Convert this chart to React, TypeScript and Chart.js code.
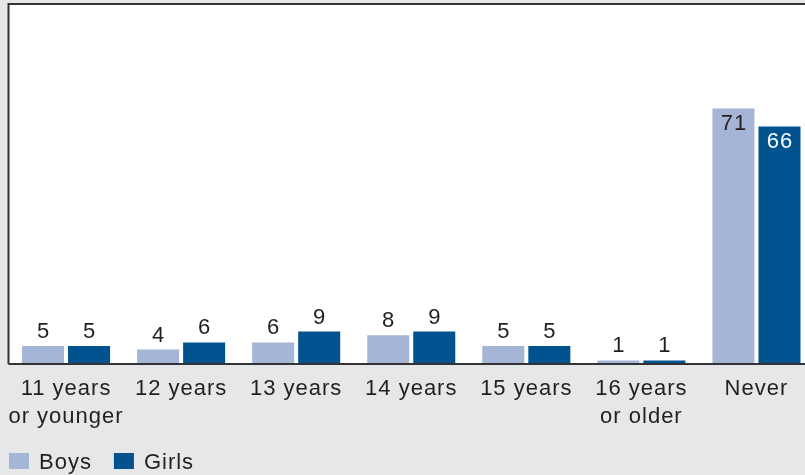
import React, { useEffect, useRef } from "react";
import { Chart, registerables } from "chart.js";

Chart.register(...registerables);

const categories: (string | string[])[] = [
  ["11 years", "or younger"],
  "12 years",
  "13 years",
  "14 years",
  "15 years",
  ["16 years", "or older"],
  "Never",
];
const boysValues = [5, 4, 6, 8, 5, 1, 71];
const girlsValues = [5, 6, 9, 9, 5, 1, 66];
const seriesNames = ["Boys", "Girls"];
const seriesColors = ["#a4b5d6", "#00538f"];
const yMax = 100;

const FONT = "'Liberation Sans', Arial, Helvetica, sans-serif";
const FONT_SIZE = 22;
const BG = "#e6e7e9";
const INK = "#231f20";

const framePlugin = {
  id: "frame",
  beforeDraw(chart: any) {
    const { ctx, chartArea: a } = chart;
    ctx.letterSpacing = "1px";
    ctx.save();
    ctx.fillStyle = BG;
    ctx.fillRect(0, 0, chart.width, chart.height);
    ctx.fillStyle = "#ffffff";
    ctx.fillRect(a.left, a.top, a.right - a.left, a.bottom - a.top);
    ctx.restore();
  },
  afterDraw(chart: any) {
    const { ctx, chartArea: a } = chart;
    ctx.save();
    ctx.strokeStyle = "#333336";
    ctx.lineWidth = 2;
    ctx.beginPath();
    ctx.moveTo(a.left, a.bottom);
    ctx.lineTo(a.left, a.top);
    ctx.lineTo(chart.width, a.top);
    ctx.stroke();
    ctx.beginPath();
    ctx.moveTo(a.left, a.bottom);
    ctx.lineTo(chart.width, a.bottom);
    ctx.stroke();

    // legend
    ctx.font = `${FONT_SIZE}px ${FONT}`;
    ctx.letterSpacing = "1px";
    ctx.textBaseline = "alphabetic";
    ctx.textAlign = "left";
    let x = 9;
    const boxTop = 453;
    chart.data.datasets.forEach((ds: any) => {
      ctx.fillStyle = ds.backgroundColor;
      ctx.fillRect(x, boxTop, 20, 16);
      ctx.fillStyle = INK;
      ctx.fillText(ds.label, x + 30, boxTop + 15.5);
      x += 30 + ctx.measureText(ds.label).width + 22;
    });
    ctx.restore();
  },
};

const valueLabelPlugin = {
  id: "valueLabels",
  afterDatasetsDraw(chart: any) {
    const { ctx } = chart;
    ctx.save();
    ctx.font = `${FONT_SIZE}px ${FONT}`;
    ctx.letterSpacing = "1px";
    ctx.textAlign = "center";
    ctx.textBaseline = "alphabetic";
    chart.data.datasets.forEach((ds: any, di: number) => {
      const meta = chart.getDatasetMeta(di);
      meta.data.forEach((el: any, i: number) => {
        const v = ds.data[i];
        if (v > 40) {
          ctx.fillStyle = di === 1 ? "#ffffff" : INK;
          ctx.fillText(String(v), el.x + 0.5, el.y + 22);
        } else {
          ctx.fillStyle = INK;
          ctx.fillText(String(v), el.x + 0.5, el.y - 8);
        }
      });
    });
    ctx.restore();
  },
};

export default function App() {
  const ref = useRef<HTMLCanvasElement | null>(null);
  useEffect(() => {
    if (!ref.current) return;
    const chart = new Chart(ref.current, {
      type: "bar",
      data: {
        labels: categories,
        datasets: [
          {
            label: seriesNames[0],
            data: boysValues,
            backgroundColor: seriesColors[0],
            categoryPercentage: 0.8,
            barPercentage: 42 / 46,
          },
          {
            label: seriesNames[1],
            data: girlsValues,
            backgroundColor: seriesColors[1],
            categoryPercentage: 0.8,
            barPercentage: 42 / 46,
          },
        ],
      },
      options: {
        responsive: false,
        animation: false,
        devicePixelRatio: 1,
        layout: { padding: { left: 8.5, right: 0, top: 4, bottom: 33 } },
        plugins: {
          legend: { display: false },
          tooltip: { enabled: false },
        },
        scales: {
          x: {
            grid: { display: false, drawTicks: false },
            border: { display: false },
            ticks: {
              color: INK,
              font: { family: FONT, size: FONT_SIZE, lineHeight: 28 / FONT_SIZE },
              padding: 11,
              maxRotation: 0,
              autoSkip: false,
            },
          },
          y: {
            display: false,
            min: 0,
            max: yMax,
          },
        },
      },
      plugins: [framePlugin, valueLabelPlugin],
    });
    return () => chart.destroy();
  }, []);
  return (
    <div
      style={{
        position: "absolute",
        left: 0,
        top: 0,
        width: 805,
        height: 475,
        overflow: "hidden",
        background: BG,
      }}
    >
      <canvas ref={ref} width={814} height={475} style={{ display: "block" }} />
    </div>
  );
}
